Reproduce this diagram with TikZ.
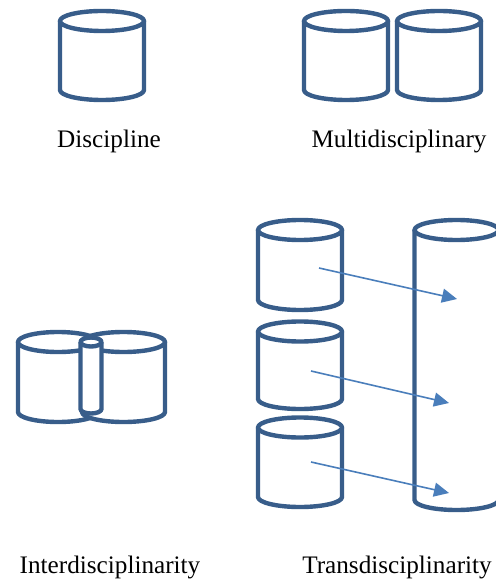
\documentclass[tikz,border=0pt]{standalone}
\usepackage{fontspec}
\setmainfont{Liberation Serif}
\usepackage{xcolor}
\usetikzlibrary{arrows.meta,positioning}
\definecolor{cylblue}{HTML}{385D8A}
\definecolor{arrblue}{HTML}{4A7EBB}
\tikzset{cylline/.style={draw=cylblue,line width=2.2pt,line join=round},
  flowarrow/.style={draw=arrblue,line width=0.8pt,-{Triangle[length=7.5pt,width=7pt]}},
  lbl/.style={anchor=base,font=\fontsize{12.6}{15}\selectfont}}
% cylinder: centre x, half width, top y, bottom y, y radius
\newcommand{\drawcyl}[5]{%
  \fill[white] (#1-#2,#3) -- (#1-#2,#4) arc[start angle=180,end angle=0,x radius=#2,y radius=#5] -- (#1+#2,#3) -- cycle;
  \draw[cylline] (#1-#2,#3) -- (#1-#2,#4) arc[start angle=180,end angle=0,x radius=#2,y radius=#5] -- (#1+#2,#3);
  \filldraw[cylline,fill=white] (#1,#3) ellipse[x radius=#2,y radius=#5];}

\begin{document}
\begin{tikzpicture}[x=0.5pt,y=-0.5pt]
\useasboundingbox (0,0) rectangle (495,582);
% discipline
\drawcyl{102}{42}{21}{90}{10}
\node[lbl] (disc) at (109,148) {Discipline};
% multidisciplinary
\drawcyl{346}{42}{21}{90}{10}
\drawcyl{439}{42}{21}{90}{10}
\node[lbl] (multi) at (399,148) {Multidisciplinary};
% interdisciplinarity
\drawcyl{58}{40}{342}{412}{10}
\drawcyl{123.5}{41.5}{342}{412}{10}
\drawcyl{91}{10.5}{342}{409}{4.5}
\node[lbl] (inter) at (110,573) {Interdisciplinarity};
% transdisciplinarity
\drawcyl{300}{42}{230}{300}{10}
\drawcyl{300}{42}{331.5}{399}{10}
\drawcyl{300}{42}{427.5}{497}{10}
\drawcyl{456.5}{42}{230}{500}{10}
\coordinate (s1) at (319,268); \coordinate (t1) at (457,299);
\coordinate (s2) at (311,371); \coordinate (t2) at (449,403);
\coordinate (s3) at (311,462); \coordinate (t3) at (449,493);
\draw[flowarrow] (s1) -- (t1);
\draw[flowarrow] (s2) -- (t2);
\draw[flowarrow] (s3) -- (t3);
\node[lbl] (trans) at (397,573) {Transdisciplinarity};
\end{tikzpicture}
\end{document}
